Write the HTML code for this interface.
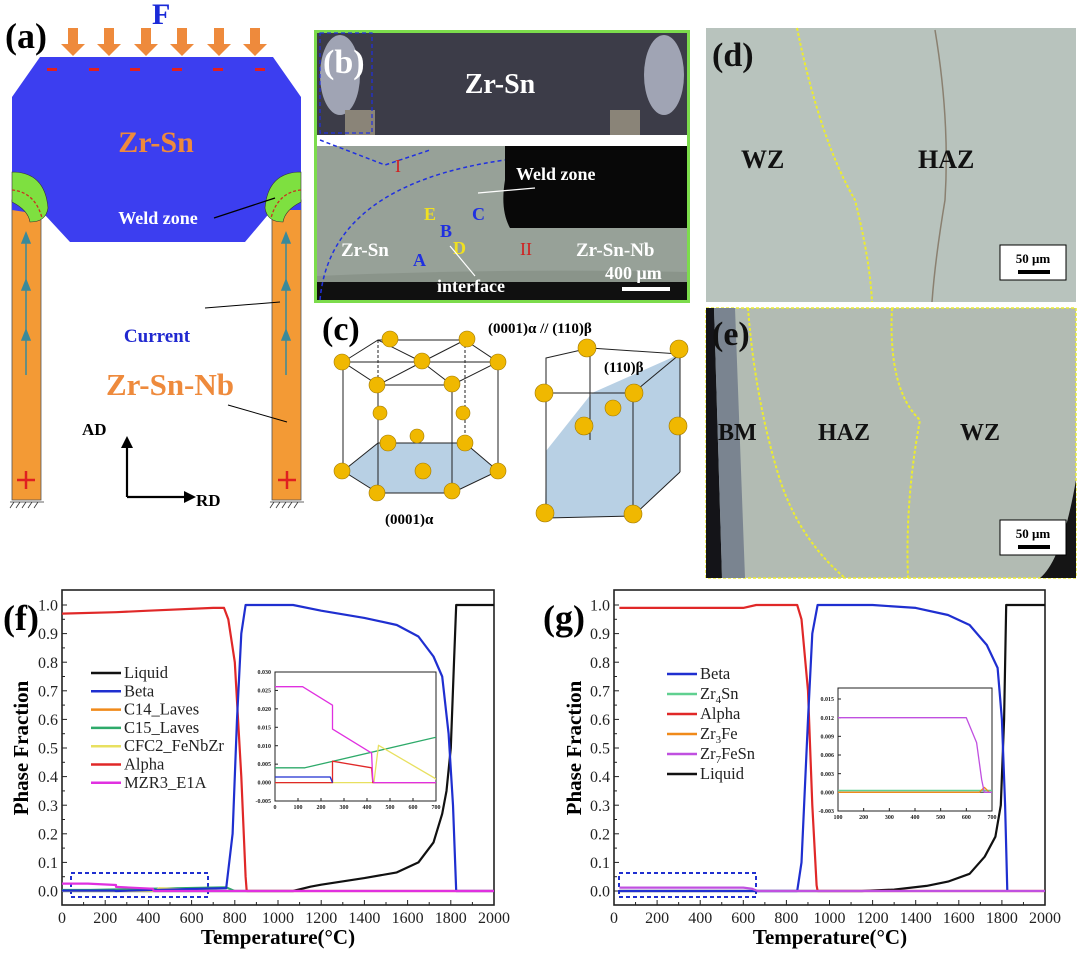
<!DOCTYPE html>
<html><head><meta charset="utf-8"><style>
html,body{margin:0;padding:0;background:#fff;}
svg{display:block;font-family:"Liberation Serif",serif;}
</style></head><body>
<svg id="fig" width="1080" height="957" viewBox="0 0 1080 957" xmlns="http://www.w3.org/2000/svg">
<defs>
<clipPath id="clipF"><rect x="275" y="672" width="161" height="129"/></clipPath>
<clipPath id="clipG"><rect x="838" y="688" width="154" height="123"/></clipPath>
</defs>
<!-- Panel (a) -->
<g>
  <text x="5" y="48" font-size="36" font-weight="bold">(a)</text>
  <text x="152" y="24" font-size="30" font-weight="bold" fill="#1a2ad8">F</text>
  <g fill="#ee8a3c">
    <path d="M68,28h10v16h7l-12,12l-12,-12h7z"/><path d="M104,28h10v16h7l-12,12l-12,-12h7z"/>
    <path d="M141,28h10v16h7l-12,12l-12,-12h7z"/><path d="M177,28h10v16h7l-12,12l-12,-12h7z"/>
    <path d="M214,28h10v16h7l-12,12l-12,-12h7z"/><path d="M250,28h10v16h7l-12,12l-12,-12h7z"/>
  </g>
  <rect x="12" y="200" width="29" height="300" fill="#f39a35" stroke="#555" stroke-width="0.8"/>
  <rect x="272" y="200" width="29" height="300" fill="#f39a35" stroke="#555" stroke-width="0.8"/>
  <polygon points="40,57 273,57 301,97 301,210 272,210 245,242 70,242 45,215 12,210 12,97" fill="#3c3ef0"/>
  <path d="M12,172 Q45,172 48,208 Q46,222 30,222 Q28,210 12,202Z" fill="#7ee040" stroke="#333" stroke-width="0.6"/>
  <path d="M301,172 Q268,172 265,208 Q267,222 283,222 Q285,210 301,202Z" fill="#7ee040" stroke="#333" stroke-width="0.6"/>
  <path d="M12,190 Q35,192 42,218" fill="none" stroke="#c83020" stroke-dasharray="3,2" stroke-width="1.3"/>
  <path d="M301,190 Q278,192 271,218" fill="none" stroke="#c83020" stroke-dasharray="3,2" stroke-width="1.3"/>
  <g fill="#e02020"><rect x="47" y="68" width="10" height="3"/><rect x="89" y="68" width="10" height="3"/><rect x="130" y="68" width="10" height="3"/><rect x="172" y="68" width="10" height="3"/><rect x="213" y="68" width="10" height="3"/><rect x="255" y="68" width="10" height="3"/></g>
  <text x="156" y="152" font-size="30" font-weight="bold" fill="#ee8a3c" text-anchor="middle">Zr-Sn</text>
  <text x="158" y="224" font-size="18" font-weight="bold" fill="#fff" text-anchor="middle">Weld zone</text>
  <line x1="214" y1="218" x2="275" y2="198" stroke="#000" stroke-width="1.2"/>
  <g stroke="#3a8a9a" stroke-width="1.5" fill="#3a8a9a">
    <line x1="26" y1="375" x2="26" y2="235"/><line x1="286" y1="375" x2="286" y2="235"/>
    <path d="M22,243l4,-10l4,10z"/><path d="M22,290l4,-10l4,10z"/><path d="M22,340l4,-10l4,10z"/>
    <path d="M282,243l4,-10l4,10z"/><path d="M282,290l4,-10l4,10z"/><path d="M282,340l4,-10l4,10z"/>
  </g>
  <text x="157" y="342" font-size="19" font-weight="bold" fill="#2028d0" text-anchor="middle">Current</text>
  <line x1="205" y1="308" x2="280" y2="302" stroke="#000" stroke-width="1"/>
  <text x="170" y="395" font-size="31" font-weight="bold" fill="#ee8a3c" text-anchor="middle">Zr-Sn-Nb</text>
  <line x1="228" y1="405" x2="287" y2="422" stroke="#000" stroke-width="1"/>
  <text x="82" y="435" font-size="17" font-weight="bold" fill="#000">AD</text>
  <text x="196" y="506" font-size="17" font-weight="bold" fill="#000">RD</text>
  <path d="M127,497V445" stroke="#000" stroke-width="2.2"/><path d="M121,448l6,-12l6,12z"/>
  <path d="M127,497H186" stroke="#000" stroke-width="2.2"/><path d="M184,491l12,6l-12,6z"/>
  <g stroke="#e02020" stroke-width="2.5"><path d="M17,480h18M26,471v18"/><path d="M278,480h18M287,471v18"/></g>
  <g stroke="#333" stroke-width="0.8"><path d="M10,502h34M10,508l4,-6M16,508l4,-6M22,508l4,-6M28,508l4,-6M34,508l4,-6"/><path d="M270,502h34M270,508l4,-6M276,508l4,-6M282,508l4,-6M288,508l4,-6M294,508l4,-6"/></g>
</g>
<!-- Panel (b) -->
<g>
  <rect x="314" y="30" width="376" height="273" fill="#7cdc4c"/>
  <rect x="317" y="33" width="370" height="102" fill="#3c3c48"/>
  <ellipse cx="340" cy="75" rx="20" ry="40" fill="#a0a4b4"/><ellipse cx="664" cy="75" rx="20" ry="40" fill="#a0a4b4"/>
  <rect x="345" y="110" width="30" height="25" fill="#8a8478"/><rect x="610" y="110" width="30" height="25" fill="#8a8478"/>
  <rect x="317" y="135" width="370" height="11" fill="#fff"/>
  <rect x="317" y="146" width="370" height="154" fill="#97a198"/>
  <path d="M505,146H687V228H510Q500,210 505,180Z" fill="#080808"/>
  <rect x="317" y="276" width="370" height="24" fill="#101010"/>
  <path d="M317,276Q500,268 687,272V282H317Z" fill="#8a948a"/>
  <path d="M320,140L385,165L430,150" fill="none" stroke="#2030e0" stroke-dasharray="4,3" stroke-width="1.5"/>
  <path d="M320,300Q330,185 505,160" fill="none" stroke="#2030e0" stroke-dasharray="4,3" stroke-width="1.5"/>
  <rect x="320" y="33" width="52" height="100" fill="none" stroke="#2030e0" stroke-dasharray="4,3" stroke-width="1.2"/>
  <text x="323" y="73" font-size="34" font-weight="bold" fill="#fff">(b)</text>
  <text x="500" y="93" font-size="28" font-weight="bold" fill="#fff" text-anchor="middle">Zr-Sn</text>
  <text x="516" y="180" font-size="18" font-weight="bold" fill="#fff">Weld zone</text>
  <line x1="535" y1="188" x2="478" y2="193" stroke="#fff" stroke-width="1.2"/>
  <text x="395" y="172" font-size="18" fill="#d02020">I</text>
  <text x="520" y="255" font-size="18" fill="#d02020">II</text>
  <text x="424" y="220" font-size="18" font-weight="bold" fill="#f0e020">E</text>
  <text x="440" y="237" font-size="18" font-weight="bold" fill="#2030e0">B</text>
  <text x="472" y="220" font-size="18" font-weight="bold" fill="#2030e0">C</text>
  <text x="453" y="254" font-size="18" font-weight="bold" fill="#f0e020">D</text>
  <text x="413" y="266" font-size="18" font-weight="bold" fill="#2030e0">A</text>
  <text x="341" y="256" font-size="19" font-weight="bold" fill="#fff">Zr-Sn</text>
  <text x="576" y="256" font-size="19" font-weight="bold" fill="#fff">Zr-Sn-Nb</text>
  <text x="605" y="279" font-size="18" font-weight="bold" fill="#fff">400 μm</text>
  <rect x="622" y="287" width="48" height="4" fill="#fff"/>
  <text x="437" y="292" font-size="18" font-weight="bold" fill="#fff">interface</text>
  <line x1="475" y1="276" x2="450" y2="246" stroke="#fff" stroke-width="1.2"/>
</g>
<!-- Panel (c) -->
<g stroke="#222" stroke-width="1">
  <text x="322" y="340" font-size="34" font-weight="bold" fill="#000" stroke="none">(c)</text>
  <text x="488" y="333" font-size="15" font-weight="bold" fill="#000" stroke="none">(0001)α // (110)β</text>
  <polygon points="343,471 378,443 465,443 498,471 452,493 378,493" fill="#b8d0e4"/>
  <polygon points="546,451 545,518 633,516 680,472 680,354 592,393" fill="#b8d0e4" stroke="none"/>
  <path d="M343,362L378,340L465,340L498,362L452,385L378,385Z M343,362V471 M378,385V493 M452,385V493 M498,362V471 M422,362L378,340 M422,362L465,340 M422,362L343,362 M422,362L498,362 M422,362L452,385 M422,362L378,385" fill="none"/>
  <path d="M378,340V443 M465,340V443" stroke-dasharray="3,2" fill="none"/>
  <path d="M546,358L590,348L680,354L633,393L546,393Z M546,393V518 M633,393V516 M680,354V472 M546,518L633,516L680,472 M590,348V440" fill="none"/>
  <g fill="#f0b800" stroke="#a07800" stroke-width="0.6">
   <circle cx="390" cy="339" r="8"/><circle cx="467" cy="339" r="8"/><circle cx="342" cy="362" r="8"/><circle cx="422" cy="361" r="8"/><circle cx="498" cy="362" r="8"/><circle cx="377" cy="385" r="8"/><circle cx="452" cy="384" r="8"/>
   <circle cx="380" cy="413" r="7"/><circle cx="463" cy="413" r="7"/><circle cx="417" cy="436" r="7"/>
   <circle cx="388" cy="443" r="8"/><circle cx="465" cy="443" r="8"/><circle cx="342" cy="471" r="8"/><circle cx="423" cy="471" r="8"/><circle cx="498" cy="471" r="8"/><circle cx="377" cy="493" r="8"/><circle cx="452" cy="491" r="8"/>
   <circle cx="587" cy="348" r="9"/><circle cx="679" cy="349" r="9"/><circle cx="544" cy="393" r="9"/><circle cx="634" cy="393" r="9"/><circle cx="613" cy="408" r="8"/><circle cx="584" cy="426" r="9"/><circle cx="678" cy="426" r="9"/><circle cx="545" cy="513" r="9"/><circle cx="633" cy="514" r="9"/>
  </g>
  <text x="604" y="372" font-size="15" font-weight="bold" fill="#000" stroke="none">(110)β</text>
  <text x="385" y="524" font-size="15" font-weight="bold" fill="#000" stroke="none">(0001)α</text>
</g>
<!-- Panel (d) -->
<g>
  <rect x="706" y="28" width="370" height="274" fill="#b8c3bd"/>
  <path d="M797,28Q820,140 855,200Q870,260 872,302" fill="none" stroke="#ecec30" stroke-dasharray="3,2" stroke-width="2"/>
  <path d="M935,30Q950,120 945,200Q935,260 932,302" fill="none" stroke="#8a8070" stroke-width="1.5"/>
  <text x="712" y="66" font-size="34" font-weight="bold" fill="#111">(d)</text>
  <text x="741" y="168" font-size="26" font-weight="bold" fill="#111">WZ</text>
  <text x="918" y="168" font-size="26" font-weight="bold" fill="#111">HAZ</text>
  <rect x="1000" y="245" width="66" height="35" fill="#fff" stroke="#000"/>
  <text x="1033" y="263" font-size="13" font-weight="bold" text-anchor="middle">50 μm</text>
  <rect x="1018" y="270" width="32" height="4" fill="#000"/>
</g>
<!-- Panel (e) -->
<g>
  <rect x="706" y="308" width="370" height="270" fill="#b2bbb3" stroke="#ecec30" stroke-width="1.5" stroke-dasharray="3,2"/>
  <path d="M706,308H714L722,578H706Z" fill="#141418"/>
  <path d="M714,308H735L745,578H722Z" fill="#7a8490"/>
  <path d="M1076,480Q1062,560 1040,578H1076Z" fill="#151515"/>
  <path d="M748,308Q755,400 780,480Q800,540 845,578" fill="none" stroke="#ecec30" stroke-dasharray="3,2" stroke-width="2"/>
  <path d="M892,308Q888,390 920,420Q905,500 908,578" fill="none" stroke="#ecec30" stroke-dasharray="3,2" stroke-width="2"/>
  <text x="712" y="345" font-size="34" font-weight="bold" fill="#111">(e)</text>
  <text x="718" y="440" font-size="24" font-weight="bold" fill="#111">BM</text>
  <text x="818" y="440" font-size="24" font-weight="bold" fill="#111">HAZ</text>
  <text x="960" y="440" font-size="24" font-weight="bold" fill="#111">WZ</text>
  <rect x="1000" y="520" width="66" height="35" fill="#fff" stroke="#000"/>
  <text x="1033" y="538" font-size="13" font-weight="bold" text-anchor="middle">50 μm</text>
  <rect x="1018" y="545" width="32" height="4" fill="#000"/>
</g>
<text x="3" y="630" font-size="36" font-weight="bold">(f)</text>
<text x="543" y="630" font-size="36" font-weight="bold">(g)</text>
<g id="chartF"></g>
<g id="chartG"></g>
</svg>
<script>
// ---- Chart (f) data ----
const fAlphaT = [0,250,400,700,750,770,800,830,850,855,2000];
const fAlphaV = [0.97,0.975,0.98,0.99,0.99,0.95,0.8,0.4,0.05,0,0];
const fBetaT = [0,240,250,760,790,810,830,850,1070,1200,1400,1550,1650,1720,1760,1790,1810,1825,2000];
const fBetaV = [0.0015,0.0015,0,0.01,0.2,0.6,0.9,1.0,1.0,0.98,0.955,0.93,0.89,0.82,0.75,0.55,0.3,0,0];
const fLiqT = [0,1070,1150,1200,1400,1550,1650,1720,1760,1780,1800,1815,1825,2000];
const fLiqV = [0,0,0.015,0.022,0.045,0.065,0.1,0.17,0.27,0.35,0.5,0.8,1.0,1.0];
const fMzrT = [0,120,250,250,420,425,430,2000];
const fMzrV = [0.026,0.026,0.021,0.0145,0.008,0.0005,0,0];
const fC15T = [0,130,700,760,800,2000];
const fC15V = [0.004,0.004,0.0123,0.013,0,0];
const fCfcT = [0,430,450,700,720,2000];
const fCfcV = [0,0,0.0101,0.001,0,0];
const fC14T = [0,250,250,420,425,2000];
const fC14V = [0,0,0.0058,0.004,0,0];
const fXTicks = [0,200,400,600,800,1000,1200,1400,1600,1800,2000];
const fYTicks = [0,0.1,0.2,0.3,0.4,0.5,0.6,0.7,0.8,0.9,1.0];
const fInXTicks = [0,100,200,300,400,500,600,700];
const fInYTicks = [-0.005,0,0.005,0.010,0.015,0.020,0.025,0.030];
const fLegend = ["Liquid","Beta","C14_Laves","C15_Laves","CFC2_FeNbZr","Alpha","MZR3_E1A"];
// ---- Chart (g) data ----
const gAlphaT = [25,600,660,850,870,900,920,940,945,2000];
const gAlphaV = [0.99,0.99,1.0,1.0,0.95,0.7,0.3,0.02,0,0];
const gBetaT = [25,850,870,900,920,945,1200,1400,1550,1650,1730,1780,1800,1815,1825];
const gBetaV = [0,0,0.1,0.6,0.9,1.0,1.0,0.99,0.965,0.93,0.86,0.78,0.6,0.3,0];
const gLiqT = [25,1150,1300,1450,1550,1650,1720,1770,1795,1810,1820,2000];
const gLiqV = [0,0,0.005,0.018,0.033,0.06,0.12,0.19,0.3,0.6,1.0,1.0];
const gZ7T = [25,600,640,660,670,2000];
const gZ7V = [0.012,0.012,0.008,0.002,0,0];
const gZ4T = [25,700];
const gZ4V = [0.0003,0.0003];
const gZ3T = [25,650,670,690,2000];
const gZ3V = [0,0,0.0008,0,0];
const gXTicks = [0,200,400,600,800,1000,1200,1400,1600,1800,2000];
const gYTicks = [0,0.1,0.2,0.3,0.4,0.5,0.6,0.7,0.8,0.9,1.0];
const gInXTicks = [100,200,300,400,500,600,700];
const gInYTicks = [-0.003,0,0.003,0.006,0.009,0.012,0.015];
const gLegend = ["Beta","Zr4Sn","Alpha","Zr3Fe","Zr7FeSn","Liquid"];

const NS="http://www.w3.org/2000/svg";
function mk(parent,tag,attrs){const e=document.createElementNS(NS,tag);for(const k in attrs)e.setAttribute(k,attrs[k]);parent.appendChild(e);return e;}
function scale(d0,d1,r0,r1){return v=>r0+(v-d0)/(d1-d0)*(r1-r0);}
function line(parent,T,V,sx,sy,color,w,name,xmin,xmax){
  let d="";let started=false;
  for(let i=0;i<T.length;i++){
    if(T[i]<xmin||T[i]>xmax)continue;
    d+=(started?"L":"M")+sx(T[i]).toFixed(1)+","+sy(V[i]).toFixed(1);started=true;
  }
  const p=mk(parent,"path",{d:d,fill:"none",stroke:color,"stroke-width":w,"stroke-linejoin":"round"});
  
  
  return p;
}
function axes(g,x0,x1,y0,y1,sx,sy,xt,yt,fs,dec,minor,frameName){
  const r=mk(g,"rect",{x:x0,y:y0,width:x1-x0,height:y1-y0,fill:"none",stroke:"#222","stroke-width":fs>12?1.6:1});
  
  
  xt.forEach((t,i)=>{
    const x=sx(t);
    mk(g,"line",{x1:x,x2:x,y1:y1,y2:y1-(fs>12?5:3),stroke:"#222","stroke-width":1});
    const tx=mk(g,"text",{x:x,y:y1+fs+2,"font-size":fs,"text-anchor":"middle",fill:"#222","font-weight":fs>12?"normal":"bold"});
    tx.textContent=t;
    
    
    if(minor&&i<xt.length-1){const xm=sx((t+xt[i+1])/2);mk(g,"line",{x1:xm,x2:xm,y1:y1,y2:y1-3,stroke:"#222"});}
  });
  yt.forEach((t,i)=>{
    const y=sy(t);
    mk(g,"line",{x1:x0,x2:x0+(fs>12?5:3),y1:y,y2:y,stroke:"#222","stroke-width":1});
    const tx=mk(g,"text",{x:x0-4,y:y+fs*0.35,"font-size":fs,"text-anchor":"end",fill:"#222","font-weight":fs>12?"normal":"bold"});
    tx.textContent=t.toFixed(dec);
    
    
    if(minor&&i<yt.length-1){const ym=sy((t+yt[i+1])/2);mk(g,"line",{x1:x0,x2:x0+3,y1:ym,y2:ym,stroke:"#222"});}
  });
}
function titles(g,cx,ty,yx,cy){
  const xt=mk(g,"text",{x:cx,y:ty,"font-size":21,"font-weight":"bold","text-anchor":"middle"});
  xt.textContent="Temperature(°C)";
  
  
  const yt=mk(g,"text",{x:yx,y:cy,"font-size":21,"font-weight":"bold","text-anchor":"middle",transform:`rotate(-90 ${yx} ${cy})`});
  yt.textContent="Phase Fraction";
  
  
}
function legend(g,x,y0,dy,names,colors){
  names.forEach((n,i)=>{
    const y=y0+i*dy;
    const lg=mk(g,"g",{});
    
    
    mk(lg,"line",{x1:x,x2:x+30,y1:y,y2:y,stroke:colors[i],"stroke-width":2.5});
    const t=mk(lg,"text",{x:x+33,y:y+5,"font-size":16.5,fill:"#222"});
    const m=n.match(/^(Zr)(\d)(.*)$/);
    if(m){t.textContent=m[1];const s=mk(t,"tspan",{"font-size":11,dy:4});s.textContent=m[2];const r=mk(t,"tspan",{dy:-4});r.textContent=m[3];}
    else t.textContent=n;
  });
}
const C={liq:"#111",beta:"#1f2fd0",c14:"#f08a1a",c15:"#2eaa6a",cfc:"#e8e060",alpha:"#e02828",mzr:"#e030e0",z4:"#60d090",z7:"#c050e0"};
// Chart F
(function(){
  const g=document.getElementById("chartF");
  const sx=scale(0,2000,62,494), sy=scale(0,1,891,605);
  axes(g,62,494,590,905,sx,sy,fXTicks,fYTicks,16,1,true,"plot-frame-f");
  titles(g,278,944,28,748);
  const box=mk(g,"rect",{x:71,y:873,width:137,height:24,fill:"none",stroke:"#2030d0","stroke-width":2,"stroke-dasharray":"4,3"});
  
  
  line(g,fLiqT,fLiqV,sx,sy,C.liq,2.2,"line-liquid",0,2000);
  line(g,fC15T,fC15V,sx,sy,C.c15,2,"line-c15",0,2000);
  line(g,fCfcT,fCfcV,sx,sy,C.cfc,2,"line-cfc2",0,2000);
  line(g,fAlphaT,fAlphaV,sx,sy,C.alpha,2.2,"line-alpha",0,2000);
  line(g,fBetaT,fBetaV,sx,sy,C.beta,2.2,"line-beta",0,2000);
  line(g,fMzrT,fMzrV,sx,sy,C.mzr,2.2,"line-mzr3",0,2000);
  legend(g,91,673,18.3,fLegend,[C.liq,C.beta,C.c14,C.c15,C.cfc,C.alpha,C.mzr]);
  const ig=mk(g,"g",{});
  
  
  mk(ig,"rect",{x:275,y:672,width:161,height:129,fill:"#fff"});
  const isx=scale(0,700,275,436), isy=scale(-0.005,0.030,801,672);
  axes(ig,275,436,672,801,isx,isy,fInXTicks,fInYTicks,6,3,false,"inset-frame-f");
  const cg=mk(ig,"g",{"clip-path":"url(#clipF)"});
  line(cg,fC15T,fC15V,isx,isy,C.c15,1.3,"inset-c15",0,2000);
  line(cg,fCfcT,fCfcV,isx,isy,C.cfc,1.3,"inset-cfc2",0,2000);
  line(cg,fC14T,fC14V,isx,isy,C.alpha,1.3,"inset-alpha",0,2000);
  line(cg,fBetaT,fBetaV,isx,isy,C.beta,1.3,"inset-beta",0,250);
  line(cg,fMzrT,fMzrV,isx,isy,C.mzr,1.3,"inset-mzr3",0,2000);
})();
// Chart G
(function(){
  const g=document.getElementById("chartG");
  const sx=scale(0,2000,614,1045), sy=scale(0,1,891,605);
  axes(g,614,1045,590,905,sx,sy,gXTicks,gYTicks,16,1,true,"plot-frame-g");
  titles(g,830,944,581,748);
  const box=mk(g,"rect",{x:619,y:873,width:137,height:24,fill:"none",stroke:"#2030d0","stroke-width":2,"stroke-dasharray":"4,3"});
  
  
  line(g,gLiqT,gLiqV,sx,sy,C.liq,2.2,"line-liquid",0,2000);
  line(g,gAlphaT,gAlphaV,sx,sy,C.alpha,2.2,"line-alpha",0,2000);
  line(g,gBetaT,gBetaV,sx,sy,C.beta,2.2,"line-beta",0,2000);
  line(g,gZ7T,gZ7V,sx,sy,C.z7,2.2,"line-zr7fesn",0,2000);
  legend(g,667,674,20,gLegend,[C.beta,C.z4,C.alpha,C.c14,C.z7,C.liq]);
  const ig=mk(g,"g",{});
  
  
  mk(ig,"rect",{x:838,y:688,width:154,height:123,fill:"#fff"});
  const isx=scale(100,700,838,992), isy=scale(-0.003,0.015,811,699);
  axes(ig,838,992,688,811,isx,isy,gInXTicks,gInYTicks,6,3,false,"inset-frame-g");
  const cg=mk(ig,"g",{"clip-path":"url(#clipG)"});
  line(cg,[0,2000],[0,0],isx,isy,"#333",1,"inset-zero-line",0,2000);
  line(cg,gZ4T,gZ4V,isx,isy,C.z4,1.5,"inset-zr4sn",0,2000);
  line(cg,gZ3T,gZ3V,isx,isy,C.c14,1.3,"inset-zr3fe",0,2000);
  line(cg,gZ7T,gZ7V,isx,isy,C.z7,1.3,"inset-zr7fesn",0,2000);
})();
</script>
</body></html>
